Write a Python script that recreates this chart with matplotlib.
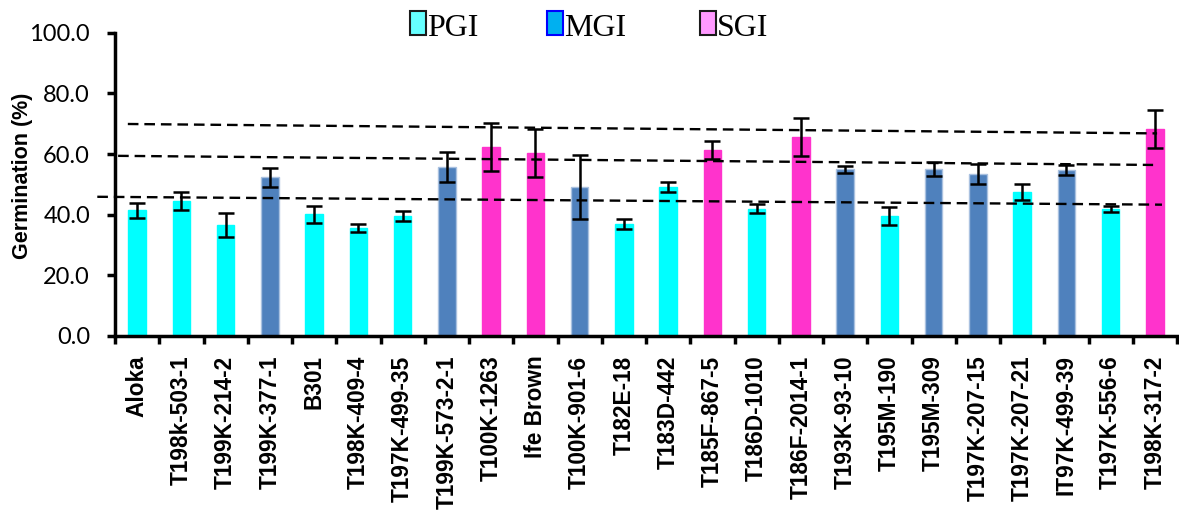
import matplotlib
matplotlib.use('Agg')
import matplotlib.pyplot as plt
import numpy as np
from matplotlib.patches import Rectangle

# 品种、发芽率及误差
names = ['Aloka', 'T198k-503-1', 'T199K-214-2', 'T199K-377-1', 'B301', 'T198K-409-4',
         'T197K-499-35', 'T199K-573-2-1', 'T100K-1263', 'Ife Brown', 'T100K-901-6',
         'T182E-18', 'T183D-442', 'T185F-867-5', 'T186D-1010', 'T186F-2014-1',
         'T193K-93-10', 'T195M-190', 'T195M-309', 'T197K-207-15', 'T197K-207-21',
         'IT97K-499-39', 'T197K-556-6', 'T198K-317-2']
germ = [41.5, 44.5, 36.6, 52.3, 40.2, 35.6, 39.6, 55.8, 62.3, 60.3, 49.2, 36.9,
        49.1, 61.3, 41.9, 65.6, 55.0, 39.6, 55.1, 53.5, 47.5, 54.7, 41.9, 68.2]
err = [2.5, 3.0, 3.8, 3.2, 2.8, 1.3, 1.7, 5.0, 7.9, 7.8, 10.6, 1.6,
       1.6, 3.0, 1.5, 6.4, 1.2, 2.9, 2.4, 3.3, 2.6, 1.7, 1.1, 6.2]
group = ['PGI', 'PGI', 'PGI', 'MGI', 'PGI', 'PGI', 'PGI', 'MGI', 'SGI', 'SGI', 'MGI', 'PGI',
         'PGI', 'SGI', 'PGI', 'SGI', 'MGI', 'PGI', 'MGI', 'MGI', 'PGI', 'MGI', 'PGI', 'SGI']

# 虚线分界(起点x, 终点x, 起点y, 终点y)
line_x0 = [-0.21, -0.43, -0.9]
line_x1 = [23.05, 22.96, 23.16]
line_y0 = [69.9, 59.4, 45.9]
line_y1 = [66.8, 56.4, 43.3]

bar_col = {'PGI': '#00FFFF', 'MGI': '#4F81BD', 'SGI': '#FF33CC'}
edge_col = {'PGI': '#00FFFF', 'MGI': '#A9C1E0', 'SGI': '#FF33CC'}
leg_col = {'PGI': '#66FFFF', 'MGI': '#00B0F0', 'SGI': '#FF99FF'}
leg_edge = {'PGI': '#1a1a1a', 'MGI': '#0000FF', 'SGI': '#1a1a1a'}

fig = plt.figure(figsize=(11.79, 5.16), dpi=100)
ax = fig.add_axes([115/1179, 1-336/516, 1062/1179, (336-32.7)/516])

x = np.arange(len(names))
ax.bar(x, germ, width=0.39, color=[bar_col[g] for g in group],
       edgecolor=[edge_col[g] for g in group], linewidth=1.0, zorder=2)
ax.errorbar(x, germ, yerr=err, fmt='none', ecolor='black', elinewidth=1.8,
            capsize=5.5, capthick=1.8, zorder=4)

for a, b, c, d in zip(line_x0, line_x1, line_y0, line_y1):
    ax.plot([a, b], [c, d], color='black', lw=1.7, ls=(0, (4.5, 2.5)), zorder=3, clip_on=False)

ax.set_xlim(-0.5, len(names) - 0.5)
ax.set_ylim(0, 100)
ax.set_yticks(np.arange(0, 101, 20))
ax.set_yticklabels(['%.1f' % v for v in np.arange(0, 101, 20)], fontsize=17, family='Lato')
ax.set_xticks(x)
ax.set_xticklabels(names, rotation=90, fontsize=16.3, fontweight='bold', family='Liberation Sans')
ax.set_xticks(np.arange(-0.5, len(names), 1), minor=True)
ax.tick_params(axis='x', which='major', length=0, pad=14)
ax.tick_params(axis='x', which='minor', length=6, width=2.5, direction='out')
ax.tick_params(axis='y', length=6, width=2.5, direction='out', pad=12)
ax.set_ylabel('Germination (%)', fontsize=15.5, fontweight='bold', family='Liberation Sans')
ax.yaxis.set_label_coords(-0.077, 0.527)

for s in ['top', 'right']:
    ax.spines[s].set_visible(False)
ax.spines['left'].set_linewidth(2.5)
ax.spines['bottom'].set_linewidth(2.5)

# 图例(顶部)
leg_x = [410, 547, 700]
for g, lx in zip(['PGI', 'MGI', 'SGI'], leg_x):
    fig.patches.append(Rectangle((lx/1179, 1-35/516), 16/1179, 24/516, transform=fig.transFigure,
                                 facecolor=leg_col[g], edgecolor=leg_edge[g], linewidth=1.5))
    fig.text((lx+17)/1179, 1-36/516, g, fontsize=23, family='Liberation Serif',
             ha='left', va='baseline')

plt.savefig('out.png', dpi=100)
